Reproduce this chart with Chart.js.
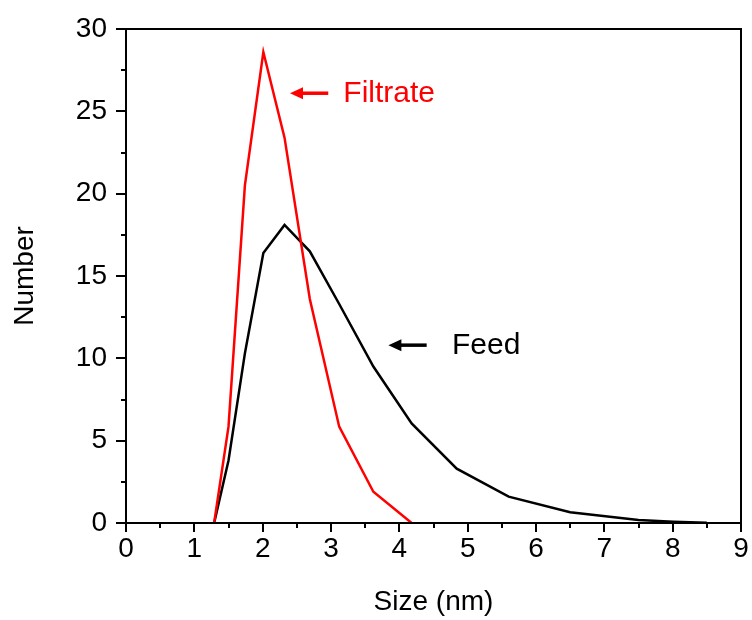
<!DOCTYPE html>
<html>
<head>
<meta charset="utf-8">
<script src="https://cdn.jsdelivr.net/npm/chart.js@4"></script>
<style>
  body { margin: 0; background: #fff; }
  #wrap { width: 752px; height: 620px; }
</style>
</head>
<body>
<div id="wrap"><canvas id="sizeChart" width="752" height="620"></canvas></div>
<script>
// particle size bins (nm) and number distribution
const sizes = [1.29, 1.50, 1.74, 2.01, 2.32, 2.69, 3.12, 3.62, 4.18, 4.84, 5.60, 6.50, 7.50, 8.01, 8.50];
const feedNumber = [0, 3.8, 10.3, 16.4, 18.1, 16.5, 13.3, 9.5, 6.05, 3.3, 1.6, 0.65, 0.18, 0.08, 0.02];
const filtrateNumber = [0, 5.85, 20.5, 28.6, 23.4, 13.6, 5.85, 1.9, 0];

const xTicks = [0, 1, 2, 3, 4, 5, 6, 7, 8, 9];
const yTicks = [0, 5, 10, 15, 20, 25, 30];

// annotations: [text, arrow tip x, arrow tail x, y, text x, colour]
const labels = [
  ["Filtrate", 2.40, 2.96, 26.1, 3.18, "#ff0000"],
  ["Feed", 3.84, 4.40, 10.8, 4.77, "#000000"]
];

const FONT = "'Liberation Sans', Arial, sans-serif";

function toPoints(xs, ys) {
  return ys.map((v, i) => ({ x: xs[i], y: v }));
}

// frame, tick marks and the arrow labels
const framePlugin = {
  id: "frame",
  afterDraw(chart) {
    const ctx = chart.ctx;
    const a = chart.chartArea;
    const xs = chart.scales.x;
    const ys = chart.scales.y;
    ctx.save();
    ctx.strokeStyle = "#000";
    ctx.lineWidth = 2;
    ctx.strokeRect(a.left, a.top, a.right - a.left, a.bottom - a.top);

    // x ticks (major every 1, minor every 0.5)
    ctx.beginPath();
    for (let v = 0; v <= 9; v += 0.5) {
      const px = Math.round(xs.getPixelForValue(v));
      const len = Number.isInteger(v) ? 9 : 5;
      ctx.moveTo(px, a.bottom);
      ctx.lineTo(px, a.bottom + len);
    }
    // y ticks (major every 5, minor every 2.5)
    for (let v = 0; v <= 30; v += 2.5) {
      const py = Math.round(ys.getPixelForValue(v));
      const len = v % 5 === 0 ? 10 : 5;
      ctx.moveTo(a.left, py);
      ctx.lineTo(a.left - len, py);
    }
    ctx.stroke();

    // arrows with text
    labels.forEach(([text, tip, tail, yv, tx, color]) => {
      const x1 = xs.getPixelForValue(tip);
      const x2 = xs.getPixelForValue(tail);
      const y = ys.getPixelForValue(yv);
      ctx.strokeStyle = color;
      ctx.fillStyle = color;
      ctx.lineWidth = 3.5;
      ctx.beginPath();
      ctx.moveTo(x1 + 8, y);
      ctx.lineTo(x2, y);
      ctx.stroke();
      ctx.beginPath();
      ctx.moveTo(x1, y);
      ctx.lineTo(x1 + 13, y - 6);
      ctx.lineTo(x1 + 13, y + 6);
      ctx.closePath();
      ctx.fill();
      ctx.font = "30px " + FONT;
      ctx.textBaseline = "middle";
      ctx.textAlign = "left";
      ctx.fillText(text, xs.getPixelForValue(tx), ys.getPixelForValue(yv) + 1);
    });
    ctx.restore();
  }
};

const ctx = document.getElementById("sizeChart").getContext("2d");
new Chart(ctx, {
  type: "line",
  data: {
    datasets: [
      {
        label: "Filtrate",
        data: toPoints(sizes, filtrateNumber),
        borderColor: "#ff0000",
        borderWidth: 2.5,
        pointRadius: 0,
        tension: 0,
        fill: false
      },
      {
        label: "Feed",
        data: toPoints(sizes, feedNumber),
        borderColor: "#000000",
        borderWidth: 2.5,
        pointRadius: 0,
        tension: 0,
        fill: false
      }
    ]
  },
  options: {
    responsive: false,
    animation: false,
    layout: { padding: { top: 29, right: 11, left: 0, bottom: 0 } },
    plugins: {
      legend: { display: false },
      tooltip: { enabled: false }
    },
    scales: {
      x: {
        type: "linear",
        min: 0,
        max: 9,
        afterFit(scale) {
          scale.height = 97;
          scale.paddingLeft = 0;
          scale.paddingRight = 0;
        },
        afterBuildTicks(scale) { scale.ticks = xTicks.map(v => ({ value: v })); },
        grid: { display: false, drawTicks: false },
        border: { display: false },
        ticks: {
          color: "#000",
          padding: 9,
          maxRotation: 0,
          font: { family: FONT, size: 28 }
        },
        title: {
          display: true,
          text: "Size (nm)",
          color: "#000",
          padding: { top: 0, bottom: 1 },
          font: { family: FONT, size: 28 }
        }
      },
      y: {
        min: 0,
        max: 30,
        afterFit(scale) {
          scale.width = 126;
          scale.paddingTop = 0;
          scale.paddingBottom = 0;
        },
        afterBuildTicks(scale) { scale.ticks = yTicks.map(v => ({ value: v })); },
        grid: { display: false, drawTicks: false },
        border: { display: false },
        ticks: {
          color: "#000",
          padding: 19,
          font: { family: FONT, size: 28 }
        },
        title: {
          display: true,
          text: "Number",
          color: "#000",
          padding: { top: 8, bottom: 0 },
          font: { family: FONT, size: 28 }
        }
      }
    }
  },
  plugins: [framePlugin]
});
</script>
</body>
</html>
